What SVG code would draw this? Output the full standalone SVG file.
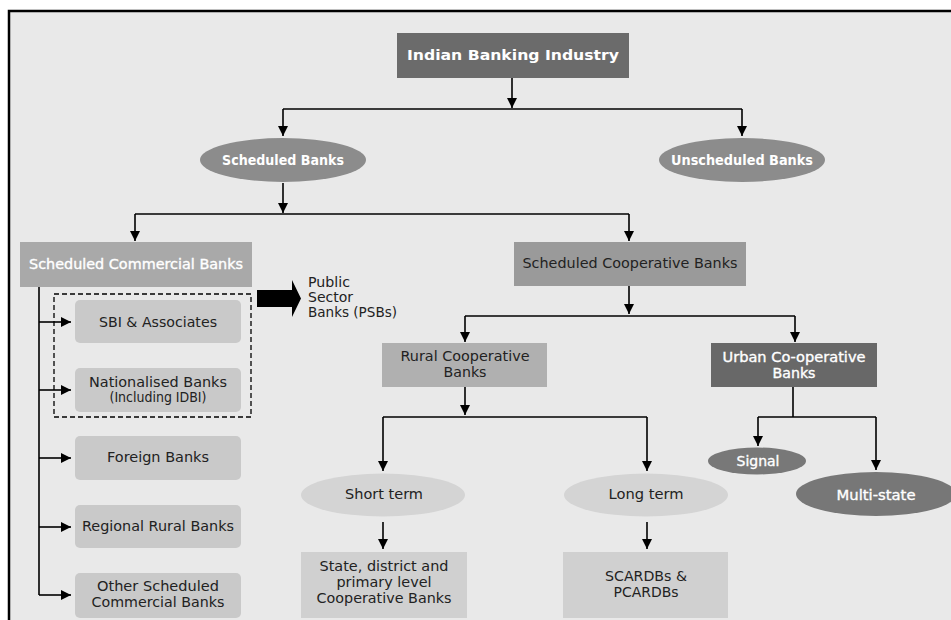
<svg xmlns="http://www.w3.org/2000/svg" width="951" height="620" viewBox="0 0 951 620">
<defs>
<marker id="ah" markerUnits="userSpaceOnUse" markerWidth="11" markerHeight="10" refX="10" refY="5" orient="auto">
<path d="M0,0 L10,5 L0,10 z" fill="#000"/>
</marker>
<style>
text{font-family:"DejaVu Sans","Liberation Sans",sans-serif;text-anchor:middle;font-size:13.5px;}
.w{fill:#fff;}
.ws{fill:#fff;stroke:#fff;stroke-width:0.35;}
.d{fill:#222;}
.b{font-weight:bold;}
.c line{stroke:#000;stroke-width:1.6;fill:none;}
.a{marker-end:url(#ah);}
</style>
</defs>
<rect x="0" y="0" width="951" height="620" fill="#fff"/>
<rect x="9" y="11" width="960" height="630" fill="#e9e9e9" stroke="#000" stroke-width="2.5"/>

<g id="connectors" class="c">
<line class="a" x1="512" y1="78" x2="512" y2="108"/>
<line x1="283" y1="109" x2="742" y2="109"/>
<line class="a" x1="283" y1="109" x2="283" y2="136"/>
<line class="a" x1="742" y1="109" x2="742" y2="136"/>
<line class="a" x1="283" y1="183" x2="283" y2="213"/>
<line x1="135" y1="214" x2="629" y2="214"/>
<line class="a" x1="135" y1="214" x2="135" y2="241"/>
<line class="a" x1="629" y1="214" x2="629" y2="241"/>
<line x1="39" y1="287" x2="39" y2="595"/>
<line class="a" x1="39" y1="322" x2="71" y2="322"/>
<line class="a" x1="39" y1="390" x2="71" y2="390"/>
<line class="a" x1="39" y1="458" x2="71" y2="458"/>
<line class="a" x1="39" y1="527" x2="71" y2="527"/>
<line class="a" x1="39" y1="595" x2="71" y2="595"/>
<line class="a" x1="629" y1="286" x2="629" y2="314"/>
<line x1="465" y1="316" x2="795" y2="316"/>
<line class="a" x1="465" y1="316" x2="465" y2="342"/>
<line class="a" x1="795" y1="316" x2="795" y2="342"/>
<line class="a" x1="465" y1="387" x2="465" y2="415"/>
<line x1="383" y1="417" x2="647" y2="417"/>
<line class="a" x1="383" y1="417" x2="383" y2="471"/>
<line class="a" x1="647" y1="417" x2="647" y2="471"/>
<line class="a" x1="383" y1="522" x2="383" y2="549"/>
<line class="a" x1="647" y1="522" x2="647" y2="549"/>
<line x1="793" y1="387" x2="793" y2="417"/>
<line x1="758" y1="417" x2="876" y2="417"/>
<line class="a" x1="758" y1="417" x2="758" y2="446"/>
<line class="a" x1="876" y1="417" x2="876" y2="470"/>
</g>

<g id="n-industry">
<rect x="397" y="33" width="232" height="45" fill="#6b6b6b"/>
<text class="w b" x="513" y="60" font-size="15" textLength="212" lengthAdjust="spacingAndGlyphs">Indian Banking Industry</text>
</g>
<g id="n-scheduled">
<ellipse cx="283" cy="160" rx="83" ry="22" fill="#8c8c8c"/>
<text class="w b" x="283" y="165" font-size="13" textLength="122" lengthAdjust="spacingAndGlyphs">Scheduled Banks</text>
</g>
<g id="n-unscheduled">
<ellipse cx="742" cy="160" rx="83" ry="22" fill="#8c8c8c"/>
<text class="w b" x="742" y="165" font-size="13" textLength="142" lengthAdjust="spacingAndGlyphs">Unscheduled Banks</text>
</g>
<g id="n-scb">
<rect x="20" y="242" width="232" height="45" fill="#a9a9a9"/>
<text class="ws" x="136" y="269" textLength="214" lengthAdjust="spacingAndGlyphs">Scheduled Commercial Banks</text>
</g>
<g id="n-psb">
<polygon points="257,290 292,290 292,280 301,298.5 292,317 292,307 257,307" fill="#000"/>
<text class="d" x="308" y="287" font-size="12.5" style="text-anchor:start" textLength="42" lengthAdjust="spacingAndGlyphs">Public</text>
<text class="d" x="308" y="302" font-size="12.5" style="text-anchor:start" textLength="45" lengthAdjust="spacingAndGlyphs">Sector</text>
<text class="d" x="308" y="317" font-size="12.5" style="text-anchor:start" textLength="89" lengthAdjust="spacingAndGlyphs">Banks (PSBs)</text>
</g>
<g id="n-psb-group">
<rect x="54" y="294" width="197" height="123" fill="none" stroke="#000" stroke-width="1.3" stroke-dasharray="5,3"/>
</g>
<g id="n-sbi">
<rect x="75" y="300" width="166" height="43" rx="5" fill="#c9c9c9"/>
<text class="d" x="158" y="327" textLength="118" lengthAdjust="spacingAndGlyphs">SBI &amp; Associates</text>
</g>
<g id="n-nationalised">
<rect x="75" y="368" width="166" height="44" rx="5" fill="#c9c9c9"/>
<text class="d" x="158" y="387" textLength="138" lengthAdjust="spacingAndGlyphs">Nationalised Banks</text>
<text class="d" x="158" y="402" font-size="10.5" textLength="97" lengthAdjust="spacingAndGlyphs">(Including IDBI)</text>
</g>
<g id="n-foreign">
<rect x="75" y="436" width="166" height="44" rx="5" fill="#c9c9c9"/>
<text class="d" x="158" y="462" textLength="102" lengthAdjust="spacingAndGlyphs">Foreign Banks</text>
</g>
<g id="n-rrb">
<rect x="75" y="505" width="166" height="43" rx="5" fill="#c9c9c9"/>
<text class="d" x="158" y="531" textLength="152" lengthAdjust="spacingAndGlyphs">Regional Rural Banks</text>
</g>
<g id="n-other">
<rect x="75" y="573" width="166" height="45" rx="5" fill="#c9c9c9"/>
<text class="d" x="158" y="591" textLength="122" lengthAdjust="spacingAndGlyphs">Other Scheduled</text>
<text class="d" x="158" y="607" textLength="133" lengthAdjust="spacingAndGlyphs">Commercial Banks</text>
</g>
<g id="n-scoop">
<rect x="514" y="242" width="232" height="44" fill="#9a9a9a"/>
<text class="d" x="630" y="268" textLength="215" lengthAdjust="spacingAndGlyphs">Scheduled Cooperative Banks</text>
</g>
<g id="n-rural">
<rect x="382" y="343" width="165" height="44" fill="#b0b0b0"/>
<text class="d" x="465" y="361" textLength="129" lengthAdjust="spacingAndGlyphs">Rural Cooperative</text>
<text class="d" x="465" y="377" textLength="43" lengthAdjust="spacingAndGlyphs">Banks</text>
</g>
<g id="n-urban">
<rect x="711" y="343" width="166" height="44" fill="#686868"/>
<text class="ws" x="794" y="362" textLength="143" lengthAdjust="spacingAndGlyphs">Urban Co-operative</text>
<text class="ws" x="794" y="378" textLength="43" lengthAdjust="spacingAndGlyphs">Banks</text>
</g>
<g id="n-short">
<ellipse cx="383" cy="495" rx="82" ry="21.5" fill="#d4d4d4"/>
<text class="d" x="384" y="499" textLength="78" lengthAdjust="spacingAndGlyphs">Short term</text>
</g>
<g id="n-long">
<ellipse cx="646" cy="495" rx="82" ry="21.5" fill="#d4d4d4"/>
<text class="d" x="646" y="499" textLength="75" lengthAdjust="spacingAndGlyphs">Long term</text>
</g>
<g id="n-state">
<rect x="301" y="552" width="166" height="66" fill="#d0d0d0"/>
<text class="d" x="384" y="571" textLength="129" lengthAdjust="spacingAndGlyphs">State, district and</text>
<text class="d" x="384" y="587" textLength="95" lengthAdjust="spacingAndGlyphs">primary level</text>
<text class="d" x="384" y="603" textLength="135" lengthAdjust="spacingAndGlyphs">Cooperative Banks</text>
</g>
<g id="n-scardb">
<rect x="563" y="552" width="165" height="66" fill="#d0d0d0"/>
<text class="d" x="646" y="581" textLength="82" lengthAdjust="spacingAndGlyphs">SCARDBs &amp;</text>
<text class="d" x="646" y="597" textLength="65" lengthAdjust="spacingAndGlyphs">PCARDBs</text>
</g>
<g id="n-signal">
<ellipse cx="757" cy="461" rx="49" ry="13.5" fill="#787878"/>
<text class="ws" x="758" y="466" textLength="43" lengthAdjust="spacingAndGlyphs">Signal</text>
</g>
<g id="n-multistate">
<ellipse cx="876" cy="494" rx="80" ry="22" fill="#777"/>
<text class="ws" x="876" y="500" textLength="79" lengthAdjust="spacingAndGlyphs">Multi-state</text>
</g>
</svg>
